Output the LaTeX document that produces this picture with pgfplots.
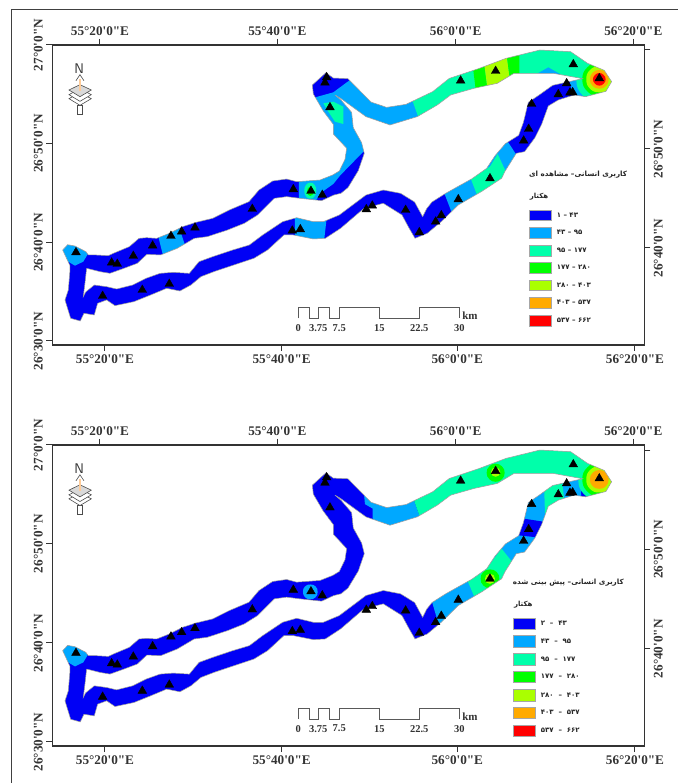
\documentclass[border=0pt]{standalone}
\usepackage{fontspec}
\usepackage{pgfplots}
\usepackage{pgfplotstable}
\pgfplotsset{compat=1.18}
\setmainfont{Liberation Serif}[Ligatures=TeXOff]
\newfontfamily\arabicfont[Script=Arabic]{DejaVu Sans}
\TeXXeTstate=1

\definecolor{cBlue}{HTML}{0000F5}
\definecolor{cLb}{HTML}{00A8FF}
\definecolor{cSg}{HTML}{00FFAA}
\definecolor{cGr}{HTML}{00FF00}
\definecolor{cLi}{HTML}{AAFF00}
\definecolor{cOr}{HTML}{FFAA00}
\definecolor{cRe}{HTML}{FF0000}
\definecolor{edge}{HTML}{9A9A9A}
\definecolor{ax}{HTML}{333333}

% outer edge of the ring, coordinates in 3x image pixels
\pgfplotstableread{
x y
188 750
203 734
225 738
258 755
265 765
290 765
325 767
340 760
388 740
417 715
440 713
470 715
508 700
548 680
588 667
638 655
688 630
747 605
777 570
818 543
860 537
890 545
960 540
998 525
1018 513
1035 478
1040 445
1015 418
1000 402
1000 373
970 333
940 282
937 255
958 236
978 218
1000 234
1044 236
1113 306
1160 322
1218 313
1298 275
1348 235
1438 205
1518 175
1620 150
1712 155
1763 190
1813 211
1835 245
1818 274
1757 290
1722 285
1675 300
1645 318
1625 373
1605 413
1574 455
1549 460
1515 514
1505 535
1444 575
1375 615
1325 664
1282 700
1245 715
1226 682
1206 645
1150 610
1092 625
1022 685
976 715
940 717
880 705
852 705
803 750
762 775
702 795
642 815
603 830
573 855
540 873
500 865
452 885
402 905
345 917
320 900
293 910
283 945
252 940
241 963
212 955
195 900
205 870
210 810
210 797
188 750
}\outerT

% inner edge (the hole)
\pgfplotstableread{
x y
260 805
300 815
330 820
372 805
412 790
441 763
482 765
532 745
583 715
622 710
683 690
733 670
773 645
823 595
860 590
900 595
965 602
1002 585
1023 580
1044 563
1075 512
1093 460
1085 428
1060 383
1055 337
1024 301
1005 285
1022 295
1098 350
1170 375
1252 350
1312 315
1352 285
1422 265
1492 250
1542 220
1610 220
1660 220
1748 236
1738 238
1658 256
1616 286
1585 307
1570 368
1556 406
1516 431
1486 466
1460 505
1416 536
1337 580
1296 606
1280 626
1268 650
1244 606
1202 580
1150 570
1098 585
1018 645
970 665
940 665
890 653
848 665
788 705
748 735
698 750
638 770
597 785
568 820
520 817
480 820
438 835
398 855
350 867
320 860
283 855
257 876
250 890
255 850
260 805
}\innerT

% white cover around the ring: rectangle + outer edge
\pgfplotstableread{
x y
175 140
1900 140
1900 975
175 975
175 140
}\maskT
\pgfplotstablevertcat{\maskT}{\outerT}

% stations
\pgfplotstableread{
x y
228 757
335 788
352 792
400 768
458 737
513 708
545 695
585 683
757 627
880 568
933 573
967 585
877 692
901 688
975 248
980 232
990 322
427 870
508 852
308 888
1382 242
1487 213
1720 193
1798 235
1700 250
1675 283
1710 278
1718 277
1595 312
1586 387
1571 422
1470 535
1375 598
1324 646
1307 665
1258 697
1217 630
1117 617
1099 628
}\stationT

\newcommand\mapback{%
  \addplot[fill=cBlue,draw=none] coordinates {(180,145) (1895,145) (1895,970) (180,970)} --cycle;
}
\newcommand\mapfront{%
  \addplot[fill=white,draw=none,even odd rule] table[x=x,y=y] {\maskT} --cycle;
  \addplot[fill=white,draw=none] table[x=x,y=y] {\innerT} --cycle;
  \addplot[draw=edge,line width=0.5pt] table[x=x,y=y] {\outerT};
  \addplot[draw=edge,line width=0.5pt] table[x=x,y=y] {\innerT};
  \addplot[only marks,mark=triangle*,mark size=5pt,mark options={fill=black,draw=black}] table[x=x,y=y] {\stationT};
  \addplot[draw=black!65,line width=0.9pt] coordinates {(895,955) (895,922) (928,922) (928,955) (955,955) (955,922) (988,922) (988,955) (1018,955) (1018,922) (1138,922) (1138,955) (1258,955) (1258,922) (1378,922) (1378,955)};
  \foreach \px/\pl in {895/0,955/3.75,1018/7.5,1138/15,1258/22.5,1378/30} {
    \edef\tmp{\noexpand\node[font=\noexpand\fontsize{10.5}{12}\noexpand\selectfont\noexpand\bfseries,text=black!80] at (axis cs:\px,983) {\pl};}\tmp
  }
  \node[font=\fontsize{11}{12}\selectfont\bfseries,text=black!80] at (axis cs:1410,947) {km};
  % north arrow
  \node[font=\sffamily\fontsize{14}{14}\selectfont,text=black!80] at (axis cs:238,206) {N};
  \draw[black!70,fill=white,line width=0.5pt] (axis cs:232,316) -- (axis cs:232,342) -- (axis cs:248,342) -- (axis cs:248,316) -- cycle;
  \draw[black!70,fill=white,line width=0.6pt] (axis cs:240,278) -- (axis cs:274,296) -- (axis cs:240,316) -- (axis cs:207,296) -- cycle;
  \draw[black!70,fill=white,line width=0.6pt] (axis cs:240,266) -- (axis cs:274,284) -- (axis cs:240,304) -- (axis cs:207,284) -- cycle;
  \draw[black!70,fill=black!15,line width=0.6pt] (axis cs:240,254) -- (axis cs:274,270) -- (axis cs:240,290) -- (axis cs:207,270) -- cycle;
  \draw[orange!40!white,line width=1.4pt] (axis cs:240,238) -- (axis cs:240,272);
  \draw[black!70,line width=0.6pt] (axis cs:228,242) -- (axis cs:240,224) -- (axis cs:252,242);
}
\newcommand\swatch[5]{%
  \addplot[fill=#1,draw=black!35,line width=0.7pt] coordinates {(#2,#3) (#4,#3) (#4,#5) (#2,#5)} --cycle;
}
\newcommand\lgtext[3]{\node[font=\arabicfont\fontsize{7}{8}\selectfont\bfseries,anchor=west,text=black!85] at (axis cs:#1,#2) {#3};}

\pgfplotsset{
  mapaxis/.style={
    scale only axis, width=592pt, anchor=south west,
    xmin=157, xmax=1933, ymin=135, ymax=1035, y dir=reverse,
    axis line style={ax,line width=1.1pt},
    tick style={ax,line width=1pt},
    tick align=outside, major tick length=6pt,
    tick label style={font=\fontsize{13.2}{15}\selectfont\bfseries,text=black!80},
    yticklabel style={rotate=90},
    axis on top, clip=true,
  },
  lowerticks/.style={
    xtick={300,832,1367,1900},
    xticklabels={55°20'0"E,55°40'0"E,56°0'0"E,56°20'0"E},
    ytick={135,430,727,1023},
    yticklabels={27°0'0"N,26°50'0"N,26°40'0"N,26°30'0"N},
    xticklabel pos=upper, yticklabel pos=left, xtick pos=upper, ytick pos=left,
    yticklabel style={anchor=south},
  },
  upperticks/.style={
    xtick={315,845,1372,1905},
    xticklabels={55°20'0"E,55°40'0"E,56°0'0"E,56°20'0"E},
    ytick={150,447,744},
    yticklabels={,26°50'0"N,26°40'0"N},
    xticklabel pos=lower, yticklabel pos=right, xtick pos=lower, ytick pos=right,
    yticklabel style={anchor=north},
  },
  zone/.style={fill=#1,draw=none},
  blob/.style={fill=#1,draw=none,smooth cycle,tension=0.8},
}

\begin{document}
\begin{tikzpicture}[x=1pt,y=1pt]
\path[use as bounding box] (0,0) rectangle (678,783);
\draw[black!75,line width=0.9pt] (11.7,0) -- (11.7,773.5) -- (678,773.5);

% upper map: observed
\begin{axis}[mapaxis,lowerticks,at={(52.3pt,438pt)},height=300pt]
\mapback
\addplot[zone=cLb] coordinates {(180,730) (265,730) (262,765) (250,785) (225,797) (213,790) (180,770)} --cycle;
\addplot[zone=cLb] coordinates {(470,690) (535,675) (555,735) (490,770)} --cycle;
\addplot[zone=cLb] coordinates {(885,645) (980,655) (972,725) (885,715)} --cycle;
% spur and west part of the top band
\addplot[zone=cLb] coordinates {(897,520) (897,605) (945,605) (965,577) (1000,552) (1020,527) (1095,450) (1200,385) (1262,352) (1240,295) (1100,230) (1050,240) (1000,277) (935,295) (900,300)} --cycle;
\addplot[zone=cSg] coordinates {(970,310) (1000,305) (1030,320) (1030,372) (1005,365) (985,335)} --cycle;
\addplot[blob=cSg] coordinates {(949,572) (944,589) (931,596) (918,589) (913,572) (918,555) (931,548) (944,555)};
\addplot[blob=cGr] coordinates {(941,574) (938,584) (931,588) (924,584) (921,574) (924,564) (931,560) (938,564)};
% lower right branch
\addplot[zone=cLb] coordinates {(1520,420) (1553,470) (1505,555) (1440,605) (1355,637) (1332,577) (1420,515) (1490,450)} --cycle;
\addplot[zone=cSg] coordinates {(1493,462) (1520,520) (1505,555) (1435,595) (1412,535) (1470,500)} --cycle;
% top band and the east tip
\addplot[blob=cLb] coordinates {(1886,238) (1860,300) (1798,326) (1736,300) (1710,238) (1736,176) (1798,150) (1860,176)};
\addplot[zone=cSg] coordinates {(1235,295) (1257,357) (1350,300) (1500,270) (1650,240) (1757,232) (1800,160) (1650,145) (1500,150)} --cycle;
\addplot[zone=cLb] coordinates {(1610,222) (1645,202) (1680,222)} --cycle;
\addplot[zone=cGr] coordinates {(1418,195) (1452,185) (1462,262) (1428,275)} --cycle;
\addplot[zone=cLi] coordinates {(1452,185) (1520,165) (1530,240) (1462,262)} --cycle;
\addplot[zone=cGr] coordinates {(1520,165) (1558,160) (1558,228) (1530,240)} --cycle;
\addplot[blob=cSg] coordinates {(1867,238) (1847,287) (1798,307) (1749,287) (1729,238) (1749,189) (1798,169) (1847,189)};
\addplot[blob=cGr] coordinates {(1849,238) (1834,274) (1798,289) (1762,274) (1747,238) (1762,202) (1798,187) (1834,202)};
\addplot[blob=cLi] coordinates {(1837,238) (1826,266) (1798,277) (1770,266) (1759,238) (1770,210) (1798,199) (1826,210)};
\addplot[blob=cOr] coordinates {(1826,238) (1818,258) (1798,266) (1778,258) (1770,238) (1778,218) (1798,210) (1818,218)};
\addplot[blob=cRe] coordinates {(1817,238) (1811,251) (1798,257) (1785,251) (1779,238) (1785,225) (1798,219) (1811,225)};
\mapfront
% legend
\swatch{cBlue}{1588}{630}{1655}{662}
\swatch{cLb}{1588}{683}{1655}{715}
\swatch{cSg}{1588}{735}{1655}{768}
\swatch{cGr}{1588}{787}{1655}{820}
\swatch{cLi}{1588}{840}{1655}{872}
\swatch{cOr}{1588}{892}{1655}{925}
\swatch{cRe}{1588}{945}{1655}{978}
\lgtext{1660}{646}{\beginR ۴۳ – ۱\endR}
\lgtext{1660}{698}{\beginR ۹۵ – ۴۳\endR}
\lgtext{1660}{750}{\beginR ۱۷۷ – ۹۵\endR}
\lgtext{1660}{803}{\beginR ۲۸۰ – ۱۷۷\endR}
\lgtext{1660}{855}{\beginR ۴۰۳ – ۲۸۰\endR}
\lgtext{1660}{908}{\beginR ۵۳۷ – ۴۰۳\endR}
\lgtext{1660}{960}{\beginR ۶۶۲ – ۵۳۷\endR}
\node[font=\arabicfont\fontsize{7.2}{8}\selectfont\bfseries,anchor=east,text=black!85] at (axis cs:1892,525) {\beginR کاربری انسانی– مشاهده ای\endR};
\node[font=\arabicfont\fontsize{7}{8}\selectfont\bfseries,text=black!85] at (axis cs:1617,590) {\beginR هکتار\endR};
\end{axis}
\begin{axis}[mapaxis,upperticks,at={(52.3pt,438pt)},height=300pt]
\end{axis}

% lower map: predicted
\begin{axis}[mapaxis,lowerticks,at={(52.3pt,37pt)},height=301pt]
\mapback
\addplot[zone=cLb] coordinates {(180,730) (265,730) (262,765) (250,785) (225,797) (213,790) (180,770)} --cycle;
\addplot[blob=cLb] coordinates {(953,574) (947,590) (931,596) (915,590) (909,574) (915,558) (931,552) (947,558)};
% west of the top band
\addplot[zone=cLb] coordinates {(1092,280) (1095,312) (1118,325) (1118,370) (1200,395) (1262,357) (1240,295) (1150,280)} --cycle;
% lower right branch
\addplot[zone=cLb] coordinates {(1295,600) (1420,515) (1490,450) (1540,395) (1560,315) (1640,235) (1740,231) (1745,305) (1650,340) (1630,400) (1595,475) (1525,545) (1455,600) (1385,645) (1320,685)} --cycle;
\addplot[zone=cBlue] coordinates {(1570,355) (1635,365) (1620,412) (1555,405)} --cycle;
\addplot[zone=cSg] coordinates {(1505,445) (1545,495) (1515,550) (1430,605) (1398,530) (1470,490)} --cycle;
\addplot[blob=cGr] coordinates {(1498,535) (1490,555) (1470,563) (1450,555) (1442,535) (1450,515) (1470,507) (1490,515)};
\addplot[blob=cLi] coordinates {(1485,535) (1481,546) (1470,550) (1459,546) (1455,535) (1459,524) (1470,520) (1481,524)};
\addplot[zone=cSg] coordinates {(1632,245) (1685,230) (1695,320) (1635,340)} --cycle;
% top band and the east tip
\addplot[zone=cSg] coordinates {(1240,295) (1262,357) (1350,300) (1500,270) (1650,240) (1757,232) (1800,160) (1650,145) (1500,150)} --cycle;
\addplot[blob=cGr] coordinates {(1514,218) (1506,237) (1487,245) (1468,237) (1460,218) (1468,199) (1487,191) (1506,199)};
\addplot[blob=cLi] coordinates {(1501,216) (1497,226) (1487,230) (1477,226) (1473,216) (1477,206) (1487,202) (1497,206)};
\addplot[blob=cSg] coordinates {(1861,238) (1843,283) (1798,301) (1753,283) (1735,238) (1753,193) (1798,175) (1843,193)};
\addplot[blob=cGr] coordinates {(1849,238) (1834,274) (1798,289) (1762,274) (1747,238) (1762,202) (1798,187) (1834,202)};
\addplot[blob=cLi] coordinates {(1837,238) (1826,266) (1798,277) (1770,266) (1759,238) (1770,210) (1798,199) (1826,210)};
\addplot[blob=cOr] coordinates {(1826,238) (1818,258) (1798,266) (1778,258) (1770,238) (1778,218) (1798,210) (1818,218)};
\mapfront
% legend
\swatch{cBlue}{1540}{652}{1607}{687}
\swatch{cLb}{1540}{705}{1607}{740}
\swatch{cSg}{1540}{758}{1607}{793}
\swatch{cGr}{1540}{812}{1607}{845}
\swatch{cLi}{1540}{865}{1607}{900}
\swatch{cOr}{1540}{918}{1607}{952}
\swatch{cRe}{1540}{972}{1607}{1005}
\lgtext{1612}{668}{\beginR ۴۳ \ – \ ۲\endR}
\lgtext{1612}{722}{\beginR ۹۵ \ – \ ۴۳\endR}
\lgtext{1612}{775}{\beginR ۱۷۷ \ – \ ۹۵\endR}
\lgtext{1612}{828}{\beginR ۲۸۰ \ – \ ۱۷۷\endR}
\lgtext{1612}{882}{\beginR ۴۰۳ \ – \ ۲۸۰\endR}
\lgtext{1612}{935}{\beginR ۵۳۷ \ – \ ۴۰۳\endR}
\lgtext{1612}{988}{\beginR ۶۶۲ \ – \ ۵۳۷\endR}
\node[font=\arabicfont\fontsize{7.2}{8}\selectfont\bfseries,anchor=east,text=black!85] at (axis cs:1882,547) {\beginR کاربری انسانی– پیش بینی شده\endR};
\node[font=\arabicfont\fontsize{7}{8}\selectfont\bfseries,text=black!85] at (axis cs:1570,612) {\beginR هکتار\endR};
\end{axis}
\begin{axis}[mapaxis,upperticks,at={(52.3pt,37pt)},height=301pt]
\end{axis}
\end{tikzpicture}
\end{document}
